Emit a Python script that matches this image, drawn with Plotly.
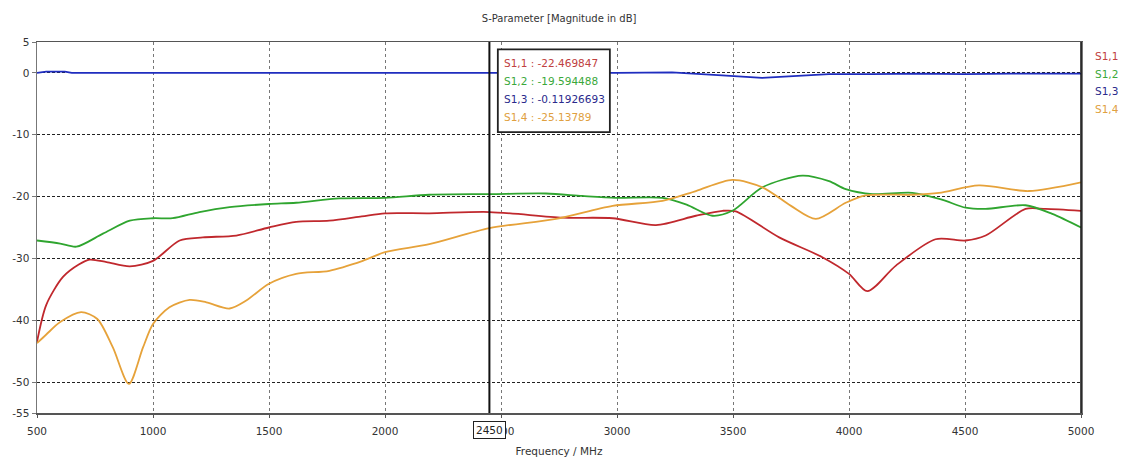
import plotly.graph_objects as go

# ---------------- data ----------------
s11_f = [500, 540, 612, 680, 727, 800, 900, 1000, 1115, 1215, 1359, 1500, 1617, 1760, 1900, 2000, 2191,
         2450, 2765, 2981, 3168, 3340, 3455, 3512, 3699, 3885, 4000, 4079, 4201, 4373, 4503, 4589, 4761, 4847, 5000]
s11_v = [-43.5, -37.5, -33.0, -31.0, -30.2, -30.6, -31.3, -30.4, -27.1, -26.6, -26.3, -25.0, -24.1, -23.9, -23.2, -22.7, -22.7,
         -22.5, -23.4, -23.5, -24.6, -23.1, -22.3, -22.4, -26.6, -29.8, -32.5, -35.3, -31.2, -26.9, -27.1, -26.3, -22.0, -22.0, -22.3]

s12_f = [500, 600, 670, 784, 900, 1000, 1085, 1200, 1330, 1500, 1617, 1803, 2000, 2191, 2450, 2694, 2850, 2995, 3196,
         3300, 3411, 3497, 3627, 3799, 3914, 3986, 4101, 4273, 4400, 4503, 4589, 4761, 4876, 5000]
s12_v = [-27.1, -27.6, -28.1, -26.0, -23.9, -23.5, -23.5, -22.5, -21.7, -21.2, -21.0, -20.3, -20.2, -19.7, -19.6, -19.5, -19.9, -20.2, -20.2,
         -21.3, -23.1, -22.3, -18.5, -16.6, -17.5, -18.8, -19.6, -19.4, -20.5, -21.8, -22.0, -21.4, -22.8, -25.0]

s13_f = [500, 540, 620, 650, 1000, 2000, 2450, 3000, 3237, 3350, 3453, 3625, 3771, 3914, 4100, 4300, 4500, 4700, 5000]
s13_v = [0.0, 0.2, 0.2, 0.0, 0.0, 0.0, -0.12, 0.0, 0.1, -0.2, -0.4, -0.8, -0.5, -0.2, -0.2, -0.1, -0.2, -0.1, -0.1]

s14_f = [500, 540, 600, 690, 760, 827, 896, 957, 1000, 1071, 1158, 1230, 1330, 1402, 1500, 1617, 1760, 1904, 2000,
         2191, 2450, 2737, 2981, 3196, 3340, 3497, 3627, 3750, 3857, 3986, 4072, 4273, 4388, 4560, 4775, 5000]
s14_v = [-43.7, -42.3, -40.3, -38.7, -39.8, -44.4, -50.3, -44.4, -40.6, -37.9, -36.7, -37.1, -38.1, -36.8, -34.1, -32.5, -32.0, -30.4, -29.0,
         -27.7, -25.1, -23.6, -21.5, -20.7, -19.1, -17.3, -18.5, -21.5, -23.6, -21.0, -19.8, -19.7, -19.4, -18.2, -19.1, -17.7]

series_names = ["S1,1", "S1,2", "S1,3", "S1,4"]
marker_freq = 2450
marker_values = ["-22.469847", "-19.594488", "-0.11926693", "-25.13789"]

x_ticks = [500, 1000, 1500, 2000, 2500, 3000, 3500, 4000, 4500, 5000]
y_ticks = [5, 0, -10, -20, -30, -40, -50, -55]

# ---------------- styles ----------------
line_colors = ["#c0282d", "#2fa52f", "#1f2dbf", "#e6a23a"]
text_colors = ["#c04040", "#3aa83a", "#2a2a8c", "#e0a040"]
FONT = "DejaVu Sans"

fig = go.Figure()
for name, f, v, c, shape in zip(series_names, [s11_f, s12_f, s13_f, s14_f], [s11_v, s12_v, s13_v, s14_v],
                                line_colors, ["spline", "spline", "linear", "spline"]):
    fig.add_trace(go.Scatter(x=f, y=v, name=name, mode="lines", hoverinfo="skip",
                             line=dict(color=c, width=1.8, shape=shape, smoothing=0.8)))

fig.update_layout(
    width=1133, height=457,
    margin=dict(l=37, r=52, t=42, b=44),
    paper_bgcolor="white", plot_bgcolor="white",
    showlegend=False, hovermode=False,
    font=dict(family=FONT, size=10, color="#222"),
    title=dict(text="S-Parameter [Magnitude in dB]", x=0.4935, xanchor="center", y=0.96, yanchor="middle",
               font=dict(family=FONT, size=10, color="#333")),
)
fig.update_xaxes(range=[500, 5000], tickvals=x_ticks, ticktext=[str(t) for t in x_ticks],
                 showgrid=True, gridcolor="#777", griddash="dot", gridwidth=1,
                 showline=True, linecolor="#555", linewidth=1.5, mirror=True,
                 ticks="outside", ticklen=3, tickcolor="#555", zeroline=False,
                 ticklabelstandoff=5, automargin=False,
                 tickfont=dict(family=FONT, size=10.5, color="#333"),
                 title=dict(text="Frequency / MHz", standoff=19, font=dict(family=FONT, size=10.5, color="#333")))
fig.update_yaxes(range=[-55, 5], tickvals=y_ticks, ticktext=[str(t) for t in y_ticks],
                 showgrid=True, gridcolor="#222", griddash="3px,2px", gridwidth=1,
                 showline=True, linecolor="#777", linewidth=1.5, mirror=True,
                 ticks="outside", ticklen=4, tickcolor="#777", zeroline=False,
                 tickfont=dict(family=FONT, size=10.5, color="#333"))

# right-hand black border
fig.add_shape(type="line", xref="paper", yref="paper", x0=1, x1=1, y0=0, y1=1,
              line=dict(color="#111", width=1.5))

# marker line
fig.add_shape(type="line", xref="x", yref="paper", x0=marker_freq, x1=marker_freq, y0=0, y1=1,
              line=dict(color="#111", width=2))

# marker frequency box on x axis
fig.add_annotation(x=marker_freq, xref="x", y=-0.045, yref="paper", text=str(marker_freq),
                   showarrow=False, bgcolor="white", bordercolor="#222", borderwidth=1, borderpad=2,
                   font=dict(family=FONT, size=10.5, color="#222"), xanchor="center", yanchor="middle")

# marker readout box
def px_x(p):
    return (p - 37.3) / 1043.7

def px_y(p):
    return (413.3 - p) / 371.6

fig.add_shape(type="rect", xref="paper", yref="paper",
              x0=px_x(498), x1=px_x(610), y0=px_y(132), y1=px_y(49),
              line=dict(color="#222", width=1.8), fillcolor="white", layer="above")
for i, (name, val, col) in enumerate(zip(series_names, marker_values, text_colors)):
    fig.add_annotation(x=px_x(502), y=px_y(63 + i * 18), xref="paper", yref="paper",
                       text=f"{name} : {val}", showarrow=False, xanchor="left", yanchor="middle",
                       font=dict(family=FONT, size=10.5, color=col))

# right-side labels
for i, (name, col) in enumerate(zip(series_names, text_colors)):
    fig.add_annotation(x=1, xshift=12, y=px_y(56 + i * 17.5), xref="paper", yref="paper",
                       text=name, showarrow=False, xanchor="left", yanchor="middle",
                       font=dict(family=FONT, size=10.5, color=col))

fig.write_html("out.html", config={"displayModeBar": False, "staticPlot": True},
               post_script="document.body.style.margin='0';document.body.style.overflow='hidden';")
